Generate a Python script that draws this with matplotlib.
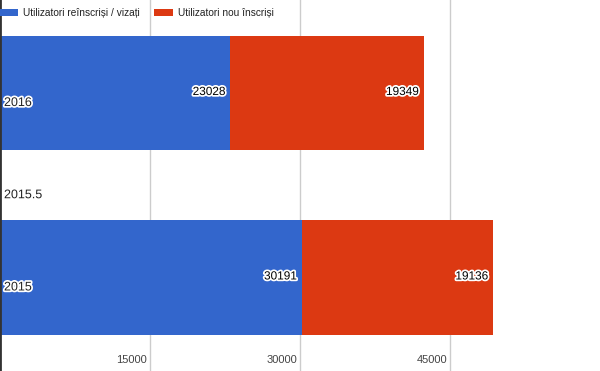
import matplotlib
matplotlib.use("Agg")
import matplotlib.pyplot as plt
import matplotlib.patheffects as pe
from matplotlib.transforms import blended_transform_factory, offset_copy

plt.rcParams['font.family'] = ['Liberation Sans', 'DejaVu Sans']

years = [2016, 2015]
reinscrisi = [23028, 30191]
noi = [19349, 19136]
series_names = ['Utilizatori reînscriși / vizați', 'Utilizatori nou înscriși']
colors = ['#3366CC', '#DC3912']
x_ticks = [15000, 30000, 45000]
y_ticks = [2015, 2015.5, 2016]

fig = plt.figure(figsize=(6.0, 3.71), dpi=100)
ax = fig.add_axes([0, 0, 1, 1])
ax.set_xlim(0, 60000)
ax.set_ylim(2014.493, 2016.504)

bh = 0.62
b1 = ax.barh(years, reinscrisi, height=bh, color=colors[0], label=series_names[0], zorder=2)
b2 = ax.barh(years, noi, left=reinscrisi, height=bh, color=colors[1], label=series_names[1], zorder=2)

for x in x_ticks:
    ax.axvline(x, color='#cccccc', lw=1, zorder=1)
ax.axvline(0, color='#333333', lw=2, zorder=3)

ax.set_xticks([])
ax.set_yticks([])
for s in ax.spines.values():
    s.set_visible(False)

outline = [pe.withStroke(linewidth=2.5, foreground='white')]

# value labels
for bars, lefts, vals in [(b1, [0, 0], reinscrisi), (b2, reinscrisi, noi)]:
    for y, l, v in zip(years, lefts, vals):
        tr = offset_copy(ax.transData, fig=fig, x=-5, y=1, units='dots')
        ax.text(l + v, y, str(v), transform=tr, ha='right', va='center',
                fontsize=8.5, color='black', path_effects=outline, zorder=4)

# x tick labels inside plot
btr = blended_transform_factory(ax.transData, ax.transAxes)
for x in x_ticks:
    tr = offset_copy(btr, fig=fig, x=-3, y=0, units='dots')
    ax.text(x, 0.03, str(x), transform=tr, ha='right', va='center',
            fontsize=8, color='#444444', zorder=4)

# y tick labels inside plot
btr2 = blended_transform_factory(ax.transAxes, ax.transData)
for y in y_ticks:
    tr = offset_copy(btr2, fig=fig, x=4, y=-10, units='dots')
    lbl = str(y) if y != int(y) else str(int(y))
    ax.text(0, y, lbl, transform=tr, ha='left', va='center',
            fontsize=9, color='#222222', path_effects=outline, zorder=4)

leg = ax.legend(loc='upper left', ncol=2, frameon=False,
                fontsize=7.3, handlelength=1.95, handleheight=0.7, handletextpad=0.45,
                columnspacing=1.4, borderaxespad=0.0, borderpad=0.55)
leg.set_bbox_to_anchor((-0.012, 1.0 - 2.5 / 371), transform=ax.transAxes)
for t in leg.get_texts():
    t.set_color('#222222')

fig.savefig('out.png', dpi=100)
